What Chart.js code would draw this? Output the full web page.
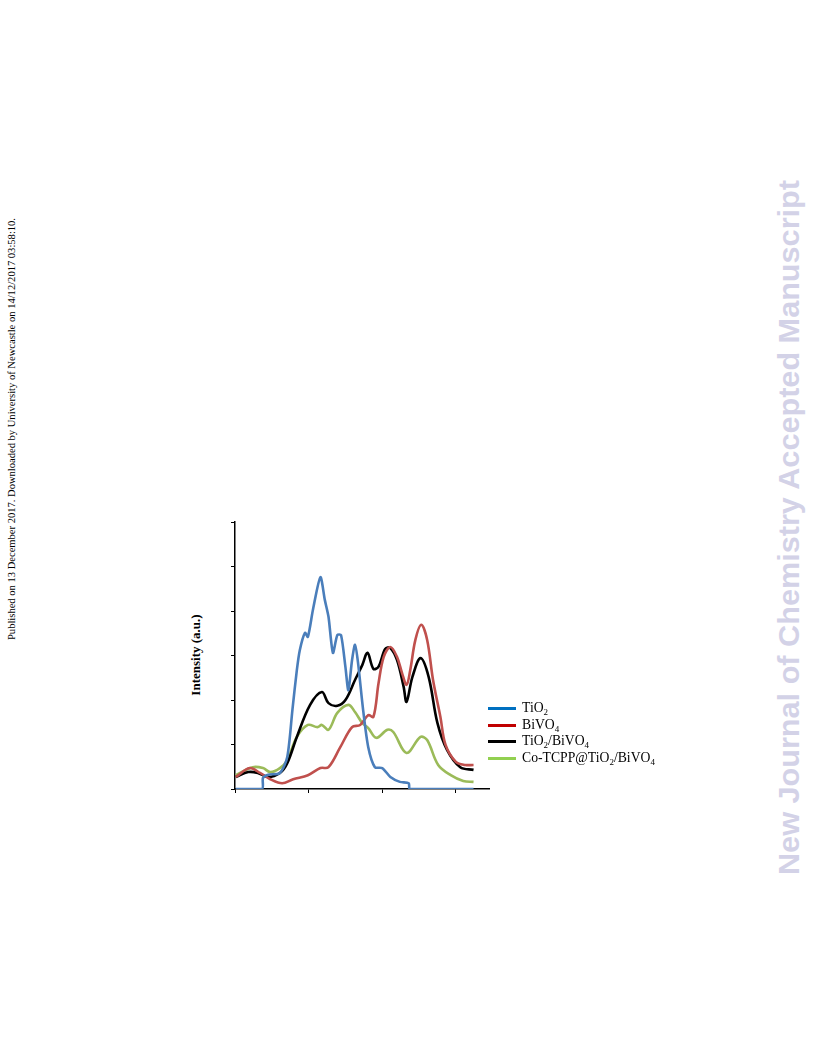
<!DOCTYPE html>
<html>
<head>
<meta charset="utf-8">
<script src="https://cdn.jsdelivr.net/npm/chart.js@4.4.0/dist/chart.umd.min.js"></script>
<style>
    body { margin: 0; width: 816px; height: 1056px; position: relative; background: #fff; overflow: hidden; }
    #wrap { position: absolute; left: 225px; top: 517px; width: 268px; height: 282px; }
    #ylabel { position: absolute; left: 196px; top: 655px; transform: translate(-50%, -50%) rotate(-90deg);
        font: bold 13px "Liberation Serif", serif; white-space: nowrap; }
    #legend { position: absolute; left: 488px; top: 700px; font: 13.7px "Liberation Serif", serif; }
    #legend div { height: 16.5px; line-height: 16.5px; white-space: nowrap; }
    #legend span.ln { display: inline-block; width: 28px; height: 3px; margin-right: 6px; vertical-align: middle; }
    #legend sub { font-size: 9px; vertical-align: -3px; line-height: 0; }
    svg.side { position: absolute; left: 0; top: 0; }
</style>
</head>
<body>
<svg class="side" width="816" height="1056">
    <text transform="translate(15,640) rotate(-90)" font-family="Liberation Serif" font-size="10" textLength="422" lengthAdjust="spacingAndGlyphs">Published on 13 December 2017. Downloaded by University of Newcastle on 14/12/2017 03:58:10.</text>
    <text transform="translate(799,875) rotate(-90)" font-family="Liberation Sans" font-weight="bold" font-size="29" fill="#d3d2e7" textLength="695" lengthAdjust="spacingAndGlyphs">New Journal of Chemistry Accepted Manuscript</text>
</svg>
<div id="ylabel">Intensity (a.u.)</div>
<div id="wrap"><canvas id="chart"></canvas></div>
<div id="legend">
    <div><span class="ln" style="background:#0070c0"></span>TiO<sub>2</sub></div>
    <div><span class="ln" style="background:#c00000"></span>BiVO<sub>4</sub></div>
    <div><span class="ln" style="background:#000"></span>TiO<sub>2</sub>/BiVO<sub>4</sub></div>
    <div><span class="ln" style="background:#92d050"></span>Co-TCPP@TiO<sub>2</sub>/BiVO<sub>4</sub></div>
</div>
<script>
// values (x and y in tick units, arbitrary)
const tio2X = [0.1, 3.67, 3.8, 4.5, 6.1, 7.1, 7.8, 8.4, 8.8, 9.5, 9.9, 10.6, 11.6, 12.2, 12.7, 13.3, 13.9, 14.4, 15.0, 15.4, 15.9, 16.3, 16.7, 17.4, 18.1, 19.0, 20.0, 21.1, 22.4, 23.6, 23.75, 32.4];
const tio2Y = [0, 0, 0.25, 0.32, 0.36, 0.72, 1.78, 2.67, 3.12, 3.51, 3.42, 4.04, 4.76, 4.25, 3.87, 3.06, 3.46, 3.46, 2.74, 2.22, 2.9, 3.24, 2.85, 1.78, 0.94, 0.49, 0.47, 0.27, 0.16, 0.13, 0, 0];

const bivo4X = [0.1, 2.0, 3.4, 4.8, 6.4, 7.9, 9.9, 11.6, 12.7, 14.3, 15.9, 17.0, 18.1, 18.8, 19.5, 20.2, 21.1, 22.0, 22.7, 23.3, 23.8, 24.5, 25.3, 26.1, 26.9, 27.9, 28.6, 30.0, 31.3, 32.4];
const bivo4Y = [0.27, 0.47, 0.36, 0.22, 0.13, 0.22, 0.31, 0.47, 0.49, 0.94, 1.39, 1.44, 1.66, 1.62, 2.38, 2.97, 3.19, 2.97, 2.6, 2.34, 2.67, 3.35, 3.69, 3.35, 2.45, 1.62, 0.99, 0.61, 0.54, 0.54];

const mixX = [0.1, 1.8, 3.1, 4.5, 6.1, 7.1, 8.4, 10.2, 11.8, 12.7, 13.9, 15.0, 16.3, 17.3, 18.0, 18.8, 19.5, 20.4, 21.1, 22.0, 22.9, 23.3, 24.1, 25.2, 26.3, 27.5, 28.8, 30.6, 32.4];
const mixY = [0.27, 0.38, 0.36, 0.27, 0.36, 0.58, 1.17, 1.89, 2.18, 1.93, 1.87, 2.0, 2.45, 2.79, 3.06, 2.7, 2.75, 3.15, 3.17, 2.9, 2.3, 1.96, 2.52, 2.94, 2.52, 1.48, 0.88, 0.49, 0.43];

const coX = [0.1, 2.4, 3.8, 4.8, 6.1, 7.1, 8.4, 9.9, 11.2, 11.8, 12.7, 13.9, 15.4, 16.3, 17.3, 18.1, 19.2, 20.7, 21.5, 23.3, 25.2, 26.1, 27.6, 29.3, 31.0, 32.4];
const coY = [0.31, 0.49, 0.47, 0.38, 0.47, 0.65, 1.17, 1.44, 1.39, 1.44, 1.33, 1.71, 1.89, 1.73, 1.48, 1.37, 1.15, 1.33, 1.28, 0.81, 1.17, 1.1, 0.54, 0.31, 0.18, 0.16];

const xTicks = [0, 10, 20, 30];
const yTicks = [0, 1, 2, 3, 4, 5, 6];

const pts = (xs, ys) => xs.map((x, i) => ({ x: x, y: ys[i] }));

const series = [
    { label: 'TiO2', data: pts(tio2X, tio2Y), color: '#4a7ebb', tension: 0.25 },
    { label: 'BiVO4', data: pts(bivo4X, bivo4Y), color: '#c0504d', tension: 0.35 },
    { label: 'TiO2/BiVO4', data: pts(mixX, mixY), color: '#000000', tension: 0.35 },
    { label: 'Co-TCPP@TiO2/BiVO4', data: pts(coX, coY), color: '#9bbb59', tension: 0.35 }
];

new Chart(document.getElementById('chart'), {
    type: 'line',
    data: {
        datasets: series.map(s => ({
            label: s.label,
            data: s.data,
            borderColor: s.color,
            borderWidth: 2.6,
            pointRadius: 0,
            tension: s.tension,
            fill: false
        }))
    },
    options: {
        responsive: true,
        maintainAspectRatio: false,
        animation: false,
        layout: { padding: { top: 5, right: 4, left: 0, bottom: 0 } },
        plugins: { legend: { display: false }, tooltip: { enabled: false } },
        scales: {
            x: {
                type: 'linear',
                min: 0,
                max: 34.5,
                afterBuildTicks: scale => { scale.ticks = xTicks.map(v => ({ value: v })); },
                afterFit: scale => { scale.height = 10; },
                ticks: { display: false },
                grid: { drawOnChartArea: false, drawTicks: true, tickLength: 4, color: '#000', lineWidth: 1 },
                border: { display: true, color: '#000', width: 1.5 }
            },
            y: {
                min: 0,
                max: 6,
                afterBuildTicks: scale => { scale.ticks = yTicks.map(v => ({ value: v })); },
                afterFit: scale => { scale.width = 10; },
                ticks: { display: false },
                grid: { drawOnChartArea: false, drawTicks: true, tickLength: 4, color: '#000', lineWidth: 1 },
                border: { display: true, color: '#000', width: 1.5 }
            }
        }
    }
});
</script>
</body>
</html>
